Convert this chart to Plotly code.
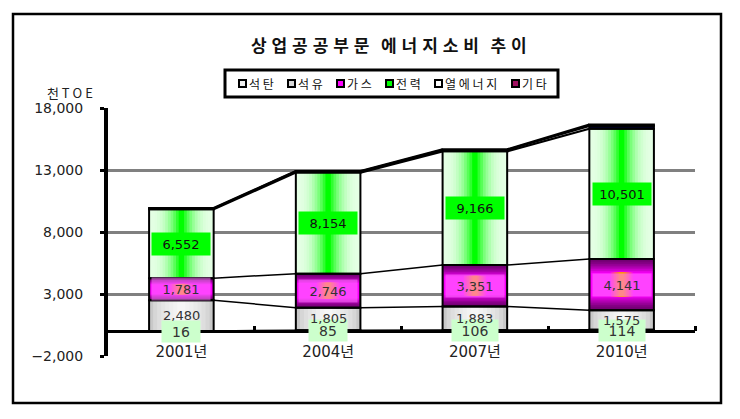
import plotly.graph_objects as go

# ---------------- data ----------------
years = ["2001년", "2004년", "2007년", "2010년"]
series_names = ["석탄", "석유", "가스", "전력", "열에너지", "기타"]
coal = [16, 85, 106, 114]
oil = [2480, 1805, 1883, 1575]
gas = [1781, 2746, 3351, 4141]
elec = [5552, 8154, 9166, 10501]
heat = [70, 90, 110, 230]
other = [30, 40, 50, 110]
elec_labels = ["6,552", "8,154", "9,166", "10,501"]
y_ticks = [-2000, 3000, 8000, 13000, 18000]
y_unit = "천TOE"
title_text = "상업공공부문 에너지소비 추이"

# ---------------- layout constants ----------------
OFF = 8                      # default page (body) margin of the html page
FIG_W, FIG_H = 740 - OFF, 419 - OFF
PLOT_L, PLOT_R, PLOT_T, PLOT_B = 108, 695, 108, 356   # plot area in window pixels
ML, MT = PLOT_L - OFF, PLOT_T - OFF
MR, MB = FIG_W - (PLOT_R - OFF), FIG_H - (PLOT_B - OFF)
PW, PH = FIG_W - ML - MR, FIG_H - MT - MB
W = 0.44
NUMFONT = "DejaVu Sans, Noto Sans CJK KR"
KRFONT = "Noto Sans CJK KR, DejaVu Sans"


def px2x(px):
    return (px - PLOT_L) / PW


def py2y(py):
    return (PLOT_B - py) / PH


def hx(c):
    c = c.lstrip("#")
    return [int(c[i:i + 2], 16) for i in (0, 2, 4)]


def mix(c1, c2, t):
    a, b = hx(c1), hx(c2)
    return "rgb(%d,%d,%d)" % tuple(round(a[i] + (b[i] - a[i]) * t) for i in range(3))


n = len(years)
xs = list(range(n))
segs = [coal, oil, gas, elec, heat, other]
bottoms, tops = [], []
run = [0] * n
for s in segs:
    bottoms.append(run[:])
    run = [r + v for r, v in zip(run, s)]
    tops.append(run[:])

fig = go.Figure()


def add_bar(vals, base, width, color, line=None):
    fig.add_bar(x=xs, y=vals, base=base, width=[width] * n,
                marker=dict(color=color, line=line or dict(width=0)),
                hoverinfo="skip", showlegend=False)


# coal
add_bar(coal, bottoms[0], W, "#d8d8d8")

# oil : light grey horizontal gradient
N = 8
for k in range(N):
    t = k / (N - 1)
    add_bar(oil, bottoms[1], W * (1 - k / N), mix("#c8c8c8", "#f6f6f6", t ** 0.6))

# gas : purple edges -> magenta centre, with orange vertical stripe
N = 9
for k in range(N):
    t = k / (N - 1)
    f = 0.27 * t
    vals = [v * (1 - 2 * f) for v in gas]
    base = [b + v * f for b, v in zip(bottoms[2], gas)]
    add_bar(vals, base, W * (1 - 0.05 * t), mix("#700070", "#ff00ff", t ** 1.4))
M = 6
for k in range(M):
    t = k / (M - 1)
    f = 0.26
    vals = [v * (1 - 2 * f) for v in gas]
    base = [b + v * f for b, v in zip(bottoms[2], gas)]
    add_bar(vals, base, W * (0.34 - 0.26 * t), mix("#ff00ff", "#ff9900", 0.2 + 0.8 * t))

# electricity : pale edges -> bright green centre
N = 12
for k in range(N):
    t = k / (N - 1)
    add_bar(elec, bottoms[3], W * (1 - k / N), mix("#e4ffe4", "#00ff00", t ** 2.4))

# heat & other
add_bar(heat, bottoms[4], W, "#000033")
add_bar(other, bottoms[5], W, "#7a1a4a")

# outlines
for i, s in enumerate(segs):
    add_bar(s, bottoms[i], W, "rgba(0,0,0,0)", line=dict(color="black", width=2))

# series lines between stacks
for lvl_i, lvl in enumerate(tops):
    lx, ly = [], []
    for i in range(n - 1):
        lx += [xs[i] + W / 2, xs[i + 1] - W / 2, None]
        ly += [lvl[i], lvl[i + 1], None]
    fig.add_scatter(x=lx, y=ly, mode="lines",
                    line=dict(color="black", width=2.2 if lvl_i >= 3 else 1.5),
                    hoverinfo="skip", showlegend=False)

annotations = []


def seg_label(i, seg_idx, text, size=13, color="#333333", **kw):
    annotations.append(dict(x=i, y=bottoms[seg_idx][i] + segs[seg_idx][i] / 2,
                            xref="x", yref="y", xanchor="center", yanchor="middle",
                            text=text, showarrow=False,
                            font=dict(family=NUMFONT, size=size, color=color), **kw))


for i in xs:
    txt = f"{coal[i]:,}"
    seg_label(i, 0, txt, size=14, width=36 if len(txt) < 3 else 44, height=19,
              bgcolor="#ccffcc")
for i in xs:
    seg_label(i, 1, f"{oil[i]:,}")
for i in xs:
    seg_label(i, 2, f"{gas[i]:,}", width=56, height=20, bgcolor="rgba(255,120,255,0.55)")
for i in xs:
    seg_label(i, 3, elec_labels[i], color="#111111", width=56, height=20, bgcolor="#00ff00")

# title
title_html = "\u00a0\u00a0\u00a0".join("\u00a0\u200a".join(w) for w in title_text.split(" "))
annotations.append(dict(x=px2x(389), y=py2y(45), xref="paper", yref="paper",
                        xanchor="center", yanchor="middle",
                        text="<b>" + title_html + "</b>",
                        showarrow=False, font=dict(family=KRFONT, size=17, color="#111111")))
# unit
annotations.append(dict(x=px2x(70), y=py2y(93), xref="paper", yref="paper",
                        xanchor="center", yanchor="middle",
                        text="\u00a0".join(y_unit[0:1]) + "\u00a0" + "\u00a0".join(y_unit[1:]),
                        showarrow=False, font=dict(family=KRFONT, size=13, color="#222222")))

shapes = []
# outer chart border
shapes.append(dict(type="rect", xref="paper", yref="paper",
                   x0=px2x(13), x1=px2x(721), y0=py2y(403), y1=py2y(14),
                   line=dict(color="black", width=2.5), layer="below"))
# legend box
shapes.append(dict(type="rect", xref="paper", yref="paper",
                   x0=px2x(225), x1=px2x(558), y0=py2y(97), y1=py2y(70),
                   line=dict(color="black", width=3), fillcolor="white"))
legend_fill = ["#f0f0f0", "#d8d8d8", "#ff00ff", "#00ff00", "#ffffff", "#a01060"]
lx = 239
for name, fc in zip(series_names, legend_fill):
    shapes.append(dict(type="rect", xref="paper", yref="paper",
                       x0=px2x(lx), x1=px2x(lx + 7), y0=py2y(87), y1=py2y(80),
                       line=dict(color="black", width=2), fillcolor=fc))
    annotations.append(dict(x=px2x(lx + 8), y=py2y(83.5), xref="paper", yref="paper",
                            xanchor="left", yanchor="middle",
                            text="\u00a0".join(name), showarrow=False,
                            font=dict(family=KRFONT, size=12, color="#111111")))
    lx += 21 + 14 * len(name)

fig.update_layout(
    width=FIG_W, height=FIG_H,
    margin=dict(l=ML, r=MR, t=MT, b=MB, pad=0, autoexpand=False),
    paper_bgcolor="white", plot_bgcolor="white",
    barmode="overlay", showlegend=False,
    annotations=annotations, shapes=shapes,
    xaxis=dict(range=[-0.5, n - 0.5], tickmode="array", tickvals=xs, ticktext=years,
               showgrid=False, zeroline=False, showline=False, ticks="",
               automargin=False,
               anchor="free", position=(0 - y_ticks[0]) / (y_ticks[-1] - y_ticks[0]),
               ticklabelstandoff=10,
               tickfont=dict(family=NUMFONT, size=15, color="#222222"),
               minor=dict(tickmode="array", tickvals=[x + 0.5 for x in xs], ticks="inside",
                          ticklen=5, tickwidth=3, tickcolor="black", showgrid=False)),
    yaxis=dict(range=[y_ticks[0], y_ticks[-1]], tickmode="array", tickvals=y_ticks,
               tickformat=",", showgrid=True, gridcolor="#808080", gridwidth=3,
               zeroline=True, zerolinecolor="black", zerolinewidth=3,
               showline=True, linecolor="black", linewidth=4,
               ticks="outside", ticklen=4, tickwidth=3, tickcolor="black",
               ticklabelstandoff=14, automargin=False,
               tickfont=dict(family=NUMFONT, size=14, color="#222222")),
)

fig.write_html("out.html")
